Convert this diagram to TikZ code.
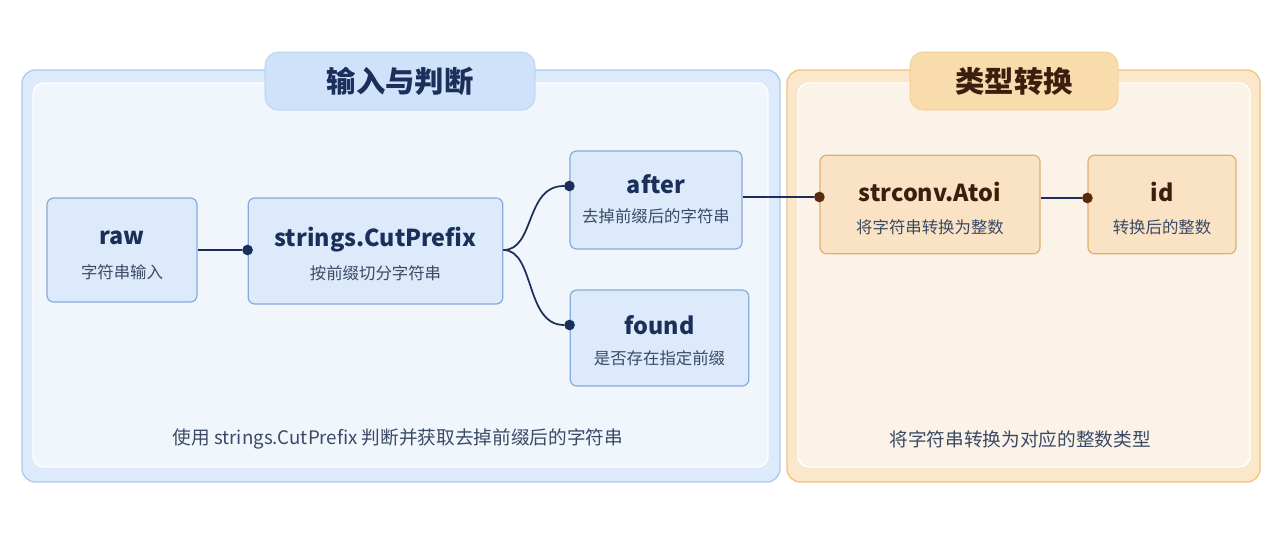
\documentclass[tikz,border=0pt]{standalone}
\usepackage{fontspec}
\setmainfont{Noto Sans CJK SC}
\begin{document}
\begin{tikzpicture}[x=0.75pt,y=-0.75pt,
  panelB/.style={draw=bluebd,fill=bluefill,rounded corners=10pt,line width=1pt},
  innerB/.style={draw=white,fill=blueinner,rounded corners=8pt,line width=1pt},
  panelO/.style={draw=orbd,fill=orfill,rounded corners=10pt,line width=1pt},
  innerO/.style={draw=white,fill=orinner,rounded corners=8pt,line width=1pt},
  boxB/.style={draw=nodebd,fill=nodefill,rounded corners=5pt,line width=0.9pt,inner sep=0pt},
  boxO/.style={draw=onodebd,fill=onodefill,rounded corners=5pt,line width=0.9pt,inner sep=0pt},
  ttl/.style={font=\bfseries\fontsize{17.5}{20}\selectfont,text=navy},
  sub/.style={font=\fontsize{12.3}{14}\selectfont,text=subtxt},
  conB/.style={draw=navy,line width=1.3pt},
  dotB/.style={circle,fill=navy,inner sep=0pt,minimum size=8pt},
  dotO/.style={circle,fill=brownc,inner sep=0pt,minimum size=8pt}]
\definecolor{navy}{HTML}{1A2F5A}
\definecolor{subtxt}{HTML}{3A4A66}
\definecolor{bluebd}{HTML}{A8CBF0}
\definecolor{bluefill}{HTML}{DCEAFB}
\definecolor{blueinner}{HTML}{F1F6FD}
\definecolor{nodebd}{HTML}{86AADB}
\definecolor{nodefill}{HTML}{DDEAFB}
\definecolor{orbd}{HTML}{F0C47E}
\definecolor{orfill}{HTML}{FBE8CB}
\definecolor{orinner}{HTML}{FBF3E8}
\definecolor{onodebd}{HTML}{DDB172}
\definecolor{onodefill}{HTML}{FAE3C4}
\definecolor{brownc}{HTML}{5A2A0E}
\definecolor{darkbr}{HTML}{3A1F0F}
\definecolor{tabB}{HTML}{CFE2F9}
\definecolor{tabO}{HTML}{F9DCAB}
\useasboundingbox (0,0) rectangle (1280,533);
\fill[white] (0,0) rectangle (1280,533);
% panels
\draw[panelB] (22,70) rectangle (780,482);
\draw[innerB] (33,83) rectangle (768,467);
\draw[panelO] (787,70) rectangle (1260,482);
\draw[innerO] (798,83) rectangle (1250,467);
\node[draw=bluebd,fill=tabB,rounded corners=10pt,minimum width=202.5pt,minimum height=43.5pt,
  font=\bfseries\fontsize{22}{25}\selectfont,text=navy] (tabL) at (400,81) {输入与判断};
\node[draw=orbd,fill=tabO,rounded corners=10pt,minimum width=156pt,minimum height=43.5pt,
  font=\bfseries\fontsize{22}{25}\selectfont,text=darkbr] (tabR) at (1014,81) {类型转换};
% nodes
\node[boxB,minimum width=112.5pt,minimum height=78pt] (raw) at (122,250) {};
\node[ttl] at (122,238) {raw};
\node[sub] at (122,272) {字符串输入};
\node[boxB,minimum width=191pt,minimum height=79.5pt] (cut) at (375.5,251) {};
\node[ttl] at (375.5,240) {strings.CutPrefix};
\node[sub] at (375.5,273) {按前缀切分字符串};
\node[boxB,minimum width=129pt,minimum height=73.5pt] (after) at (656,200) {};
\node[ttl] at (656,184) {after};
\node[sub] at (656,216) {去掉前缀后的字符串};
\node[boxB,minimum width=134pt,minimum height=72pt] (found) at (659.5,338) {};
\node[ttl] at (659.5,325) {found};
\node[sub] at (659.5,358) {是否存在指定前缀};
\node[boxO,minimum width=165pt,minimum height=74pt] (atoi) at (930,204.5) {};
\node[ttl,text=darkbr] at (930,192) {strconv.Atoi};
\node[sub] at (930,227) {将字符串转换为整数};
\node[boxO,minimum width=111pt,minimum height=74pt] (id) at (1162,204.5) {};
\node[ttl,text=darkbr] at (1162,192) {id};
\node[sub] at (1162,227) {转换后的整数};
% footers
\node[sub,font=\fontsize{14}{16}\selectfont] (f1) at (398,439) {使用 strings.CutPrefix 判断并获取去掉前缀后的字符串};
\node[sub,font=\fontsize{14}{16}\selectfont] (f2) at (1020,439) {将字符串转换为对应的整数类型};
% connectors
\node[dotB] (d1) at (cut.west |- 0,250) {};
\draw[conB] (raw.east) -- (d1);
\node[dotB] (d2) at (after.west |- 0,186) {};
\node[dotB] (d3) at (found.west |- 0,325) {};
\draw[conB] (cut.east |- 0,250) .. controls (535,250) and (525,186) .. (d2);
\draw[conB] (cut.east |- 0,250) .. controls (535,250) and (525,325) .. (d3);
\node[dotO] (d4) at (atoi.west |- 0,197) {};
\draw[conB] (after.east |- 0,197) -- (d4);
\node[dotO] (d5) at (id.west |- 0,198) {};
\draw[conB] (atoi.east |- 0,198) -- (d5);
\end{tikzpicture}
\end{document}
